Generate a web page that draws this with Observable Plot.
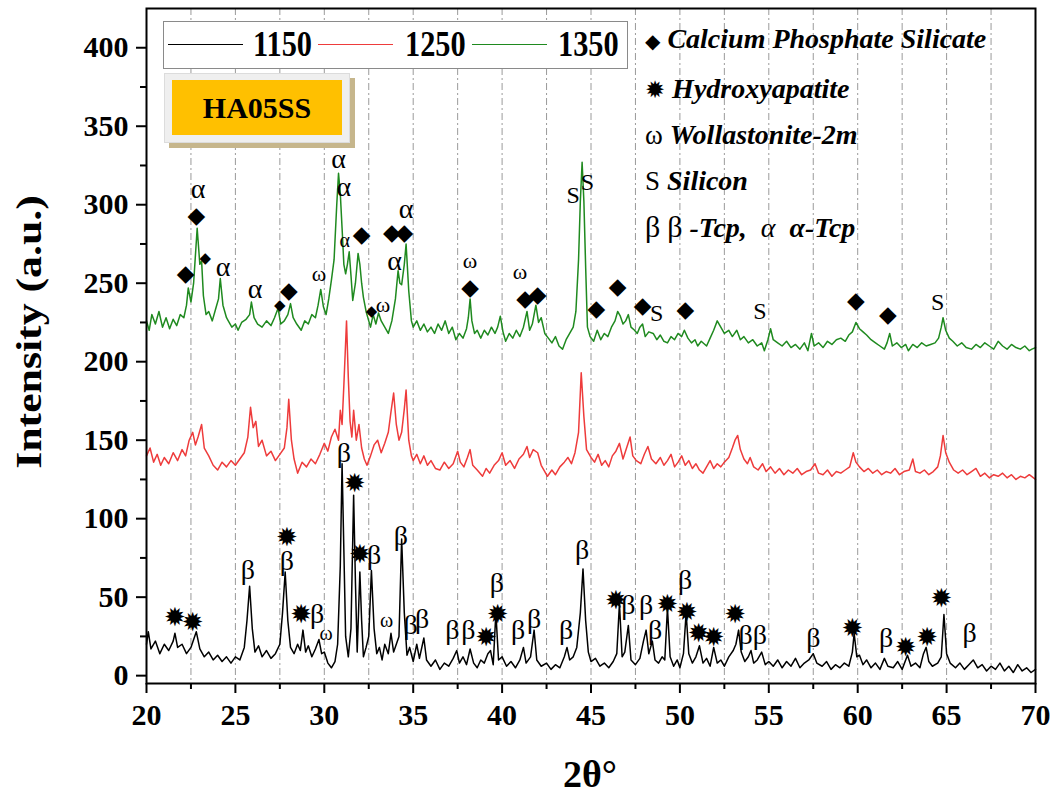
<!DOCTYPE html>
<html>
<head>
<meta charset="utf-8">
<script src="https://cdn.jsdelivr.net/npm/d3@7"></script>
<script src="https://cdn.jsdelivr.net/npm/@observablehq/plot@0.6"></script>
<style>
  body { margin: 0; background: #fff; }
  #wrap { position: relative; width: 1054px; height: 805px; overflow: hidden; }
  .ser { font-family: "Liberation Serif", serif; font-weight: bold; }
  .abs { position: absolute; }
</style>
</head>
<body>
<div id="wrap"></div>
<script>
// ---------- data ----------
const seriesNames = ["1150", "1250", "1350"];
const seriesColors = ["#000000", "#ee3b3b", "#1f8a1f"];

const s1150 = [[20,20],[20.1,28],[20.25,17],[20.5,22],[20.75,14],[21,20],[21.25,16],[21.5,22],[21.6,27],[21.75,18],[22,20],[22.25,14],[22.5,18],[22.8,28],[23,17],[23.25,12],[23.5,15],[23.75,10],[24,13],[24.25,9],[24.5,12],[24.75,8],[25,12],[25.25,10],[25.5,18],[25.65,35],[25.8,57],[25.95,30],[26.1,15],[26.3,19],[26.5,12],[26.75,16],[27,11],[27.25,14],[27.5,20],[27.65,40],[27.8,66],[27.95,35],[28.1,18],[28.3,14],[28.5,20],[28.65,16],[28.8,29],[28.95,15],[29.1,19],[29.3,12],[29.5,17],[29.7,23],[29.85,14],[30,15],[30.2,8],[30.4,5],[30.6,9],[30.75,20],[30.9,70],[31,135],[31.1,80],[31.2,25],[31.35,12],[31.5,30],[31.65,115],[31.75,60],[31.85,15],[32,66],[32.1,35],[32.2,12],[32.35,18],[32.5,25],[32.65,67],[32.8,30],[32.95,14],[33.1,18],[33.25,10],[33.4,20],[33.6,14],[33.75,27],[33.9,15],[34.05,20],[34.2,25],[34.35,87],[34.5,40],[34.65,13],[34.8,18],[35,9],[35.2,20],[35.35,11],[35.6,24],[35.75,10],[36,6],[36.25,10],[36.5,4],[36.75,8],[37,6],[37.25,11],[37.45,16],[37.6,8],[37.8,12],[38,7],[38.2,17],[38.4,8],[38.6,5],[38.8,10],[39,8],[39.2,14],[39.35,16],[39.5,7],[39.65,40],[39.8,10],[40,12],[40.25,6],[40.5,9],[40.75,5],[41,10],[41.2,18],[41.35,8],[41.6,12],[41.8,29],[41.95,10],[42.2,6],[42.5,8],[42.75,4],[43,7],[43.25,5],[43.5,12],[43.65,18],[43.8,10],[44,12],[44.2,18],[44.4,40],[44.55,68],[44.7,35],[44.85,15],[45,9],[45.25,11],[45.5,6],[45.75,8],[46,5],[46.25,9],[46.45,14],[46.6,46],[46.75,12],[46.9,15],[47.1,32],[47.25,10],[47.5,7],[47.75,11],[47.95,22],[48.1,29],[48.25,14],[48.45,22],[48.6,10],[48.8,8],[49,12],[49.15,10],[49.3,43],[49.45,12],[49.65,6],[49.85,10],[50,5],[50.2,14],[50.35,40],[50.5,14],[50.7,8],[50.9,12],[51.1,19],[51.3,8],[51.5,11],[51.7,6],[51.9,18],[52.1,8],[52.3,10],[52.5,6],[52.75,12],[53,16],[53.15,20],[53.3,29],[53.45,15],[53.65,9],[53.85,12],[54,16],[54.15,8],[54.35,10],[54.6,15],[54.8,7],[55,9],[55.25,6],[55.5,10],[55.75,5],[56,9],[56.25,6],[56.5,11],[56.75,5],[57,8],[57.25,10],[57.5,14],[57.7,8],[58,6],[58.25,9],[58.5,4],[58.75,7],[59,5],[59.25,8],[59.5,6],[59.7,15],[59.8,27],[59.95,12],[60.1,13],[60.3,7],[60.5,10],[60.75,5],[61,8],[61.25,4],[61.5,11],[61.7,6],[62,5],[62.25,9],[62.5,4],[62.8,13],[63,6],[63.25,8],[63.5,5],[63.7,14],[63.85,18],[64,9],[64.2,6],[64.5,8],[64.7,12],[64.85,39],[65,14],[65.2,8],[65.5,5],[65.75,8],[66,4],[66.25,7],[66.5,10],[66.75,5],[67,7],[67.25,3],[67.5,6],[67.75,4],[68,8],[68.25,3],[68.5,6],[68.75,2],[69,7],[69.25,3],[69.5,5],[69.75,2],[70,4]];

const s1250 = [[20,140],[20.2,145],[20.4,136],[20.6,141],[20.8,134],[21,139],[21.25,135],[21.5,142],[21.75,137],[22,144],[22.2,140],[22.4,150],[22.6,155],[22.75,147],[22.9,152],[23.1,160],[23.25,145],[23.5,140],[23.75,134],[24,131],[24.25,136],[24.5,133],[24.75,137],[25,134],[25.25,138],[25.5,142],[25.7,152],[25.85,171],[26,158],[26.15,162],[26.3,146],[26.5,150],[26.75,140],[27,143],[27.25,137],[27.5,141],[27.75,145],[27.9,158],[28,176],[28.15,150],[28.3,138],[28.5,129],[28.75,136],[29,133],[29.25,138],[29.5,135],[29.75,141],[30,148],[30.2,143],[30.4,152],[30.6,157],[30.8,150],[30.9,169],[31,160],[31.1,185],[31.25,226],[31.35,190],[31.45,162],[31.55,152],[31.65,169],[31.8,150],[31.95,160],[32.1,145],[32.25,138],[32.4,134],[32.6,140],[32.8,147],[33,150],[33.2,142],[33.4,148],[33.6,155],[33.75,168],[33.9,180],[34.05,160],[34.2,150],[34.35,155],[34.5,170],[34.6,182],[34.75,150],[34.9,140],[35,137],[35.2,141],[35.4,135],[35.6,140],[35.8,134],[36,137],[36.25,132],[36.5,131],[36.75,136],[37,132],[37.25,135],[37.5,143],[37.65,136],[37.85,133],[38.05,139],[38.2,144],[38.35,134],[38.6,131],[38.9,127],[39.1,132],[39.3,129],[39.55,134],[39.8,137],[40,142],[40.2,134],[40.45,137],[40.7,132],[40.95,138],[41.2,141],[41.4,146],[41.55,139],[41.75,144],[42,142],[42.2,134],[42.4,130],[42.55,127],[42.8,131],[43,128],[43.25,133],[43.5,136],[43.7,139],[43.9,135],[44.1,142],[44.3,155],[44.45,193],[44.6,165],[44.75,144],[45,139],[45.2,136],[45.4,141],[45.6,134],[45.8,137],[46,133],[46.2,140],[46.4,143],[46.6,148],[46.8,138],[47,145],[47.2,152],[47.35,140],[47.55,137],[47.8,135],[48,141],[48.2,146],[48.4,138],[48.65,135],[48.9,139],[49.1,134],[49.3,137],[49.5,141],[49.7,133],[49.9,136],[50.1,140],[50.3,134],[50.5,137],[50.7,132],[50.9,135],[51.1,131],[51.3,129],[51.5,133],[51.7,137],[51.9,132],[52.1,135],[52.3,133],[52.5,136],[52.75,139],[52.95,145],[53.1,150],[53.25,153],[53.4,144],[53.6,138],[53.8,135],[53.95,139],[54.15,133],[54.4,131],[54.65,135],[54.85,130],[55.1,133],[55.35,129],[55.6,132],[55.85,128],[56.1,131],[56.35,129],[56.6,132],[56.85,128],[57.1,130],[57.35,131],[57.6,135],[57.8,129],[58.05,128],[58.3,131],[58.55,127],[58.8,130],[59.05,129],[59.3,131],[59.55,133],[59.75,142],[59.9,136],[60.1,133],[60.35,130],[60.6,132],[60.85,129],[61.1,131],[61.35,128],[61.6,130],[61.85,129],[62.1,132],[62.35,128],[62.6,130],[62.9,131],[63.1,138],[63.25,130],[63.5,129],[63.75,131],[64,128],[64.25,130],[64.5,133],[64.65,140],[64.8,153],[64.95,142],[65.15,136],[65.4,131],[65.65,129],[65.9,131],[66.15,128],[66.4,130],[66.65,132],[66.9,127],[67.15,129],[67.4,126],[67.65,128],[67.9,127],[68.15,129],[68.4,126],[68.65,128],[68.9,125],[69.15,127],[69.4,126],[69.65,128],[70,125]];

const s1350 = [[20,226],[20.15,220],[20.3,230],[20.5,224],[20.7,232],[20.9,222],[21.1,228],[21.3,221],[21.5,227],[21.7,223],[21.9,230],[22.1,228],[22.25,236],[22.35,247],[22.5,238],[22.65,250],[22.85,285],[23,262],[23.1,264],[23.2,242],[23.35,230],[23.5,232],[23.7,226],[23.9,234],[24.05,240],[24.15,253],[24.3,236],[24.5,228],[24.6,226],[24.8,222],[25,224],[25.15,220],[25.35,225],[25.6,227],[25.8,230],[25.9,238],[26.05,228],[26.25,224],[26.5,222],[26.75,226],[27,223],[27.2,228],[27.4,234],[27.55,224],[27.75,226],[27.95,230],[28.1,237],[28.25,228],[28.45,224],[28.7,220],[28.9,226],[29.1,224],[29.3,230],[29.5,228],[29.65,236],[29.8,246],[29.95,235],[30.1,230],[30.25,240],[30.4,252],[30.55,265],[30.7,300],[30.8,320],[30.9,307],[31,285],[31.1,262],[31.2,256],[31.3,262],[31.4,270],[31.5,255],[31.6,239],[31.75,250],[31.9,269],[32,262],[32.1,250],[32.2,241],[32.35,232],[32.5,226],[32.6,222],[32.75,230],[32.9,224],[33.05,231],[33.2,226],[33.4,222],[33.6,218],[33.8,226],[34,240],[34.15,258],[34.25,250],[34.35,249],[34.5,262],[34.6,275],[34.75,245],[34.9,226],[35,222],[35.2,226],[35.4,220],[35.6,224],[35.8,219],[36,222],[36.2,218],[36.4,224],[36.6,220],[36.8,226],[37,218],[37.2,222],[37.4,214],[37.6,218],[37.8,215],[38,221],[38.1,228],[38.2,240],[38.3,226],[38.45,218],[38.6,220],[38.8,215],[39,220],[39.2,217],[39.4,222],[39.6,218],[39.75,222],[39.9,229],[40.05,219],[40.2,213],[40.4,218],[40.6,215],[40.8,220],[41,216],[41.2,222],[41.4,232],[41.55,220],[41.7,224],[41.9,236],[42.05,225],[42.2,228],[42.4,218],[42.6,215],[42.8,212],[43,216],[43.2,210],[43.4,208],[43.6,214],[43.8,218],[44,222],[44.15,232],[44.3,265],[44.4,302],[44.5,327],[44.6,302],[44.7,260],[44.8,222],[44.95,216],[45.15,213],[45.35,220],[45.55,214],[45.75,218],[45.95,216],[46.15,222],[46.35,226],[46.5,232],[46.65,229],[46.8,224],[46.95,226],[47.1,230],[47.25,222],[47.45,220],[47.6,218],[47.75,222],[47.9,224],[48.05,216],[48.25,219],[48.5,218],[48.7,214],[48.9,217],[49.1,213],[49.3,212],[49.5,216],[49.7,214],[49.9,218],[50.1,216],[50.25,220],[50.45,215],[50.65,212],[50.85,214],[51,210],[51.2,213],[51.5,210],[51.7,215],[51.9,220],[52.1,226],[52.3,222],[52.5,218],[52.75,220],[52.95,216],[53.2,220],[53.4,214],[53.6,216],[53.85,212],[54.1,214],[54.35,210],[54.6,212],[54.75,207],[54.95,214],[55.1,221],[55.25,214],[55.5,212],[55.75,210],[56,213],[56.25,209],[56.5,211],[56.75,208],[57,212],[57.2,207],[57.4,218],[57.55,210],[57.8,212],[58.05,209],[58.3,213],[58.55,211],[58.8,214],[59.05,215],[59.3,213],[59.5,217],[59.7,219],[59.9,225],[60.1,221],[60.3,219],[60.5,217],[60.75,214],[61,212],[61.25,210],[61.5,208],[61.65,212],[61.8,218],[61.95,210],[62.2,212],[62.45,209],[62.7,211],[62.85,207],[63.1,211],[63.35,209],[63.6,212],[63.85,210],[64.1,211],[64.35,212],[64.55,215],[64.7,222],[64.8,228],[64.95,220],[65.15,215],[65.35,213],[65.6,210],[65.85,212],[66.1,209],[66.4,208],[66.65,211],[66.9,209],[67.15,212],[67.4,210],[67.65,208],[67.9,213],[68.15,210],[68.4,208],[68.65,211],[68.9,209],[69.15,208],[69.4,210],[69.65,207],[69.8,208],[70,209]];

// peak markers [2theta, intensity]
const diamondMarks = [[22.2,256],[22.8,293],[28.0,245],[32.1,281],[33.8,282],[34.5,282],[38.2,247],[41.3,240],[42.0,243],[45.3,234],[46.5,248],[47.9,236],[50.3,233],[59.9,239],[61.7,230]];
const smallDiamondMarks = [[23.3,266],[27.5,236],[32.65,232]];
const alphaMarks = [[22.9,310],[24.3,260],[26.1,246],[30.8,329],[31.1,311],[33.95,264],[34.6,297]];
const smallAlphaMarks = [[31.15,277]];
const omegaGreen = [[29.7,256],[33.3,236],[38.2,264],[41.0,257]];
const siliconMarks = [[44.0,306],[44.8,314],[48.7,231],[54.5,232],[64.5,238]];
const starMarks = [[21.6,37],[22.6,34],[27.9,88],[28.7,39],[31.7,122],[32.0,77],[39.1,24],[39.75,39],[46.4,48],[49.3,45],[50.4,40],[51.05,27],[51.9,24],[53.1,39],[59.7,30],[62.7,18],[63.9,24],[64.7,49]];
const betaMarks = [[25.7,67],[27.9,73],[29.6,39],[31.1,142],[32.8,77],[34.3,89],[34.85,32],[35.5,36],[37.2,29],[38.1,29],[39.7,59],[40.9,29],[41.8,36],[43.6,29],[44.5,80],[47.1,45],[48.1,45],[48.6,29],[50.3,61],[53.7,26],[54.5,26],[57.5,24],[61.6,24],[66.3,27]];
const omegaBlack = [[30.1,27],[33.5,35]];

const xMajor = [20,25,30,35,40,45,50,55,60,65,70];
const xMinor = [22.5,27.5,32.5,37.5,42.5,47.5,52.5,57.5,62.5,67.5];
const gridX = [22.5,25,27.5,30,32.5,35,37.5,40,42.5,45,47.5,50,52.5,55,57.5,60,62.5,65,67.5];
const yMajor = [0,50,100,150,200,250,300,350,400];
const yMinor = [25,75,125,175,225,275,325,375];

const xLabel = "2θ°";
const yLabel = "Intensity (a.u.)";
const sampleName = "HA05SS";
const phaseLegend = [
  ["◆", "Calcium Phosphate Silicate"],
  ["✹", "Hydroxyapatite"],
  ["ω", "Wollastonite-2m"],
  ["S", "Silicon"]
];

// ---------- chart ----------
const serif = "Liberation Serif, Times New Roman, serif";
const sym = "DejaVu Sans, sans-serif";
const px = d => d[0], py = d => d[1];
const txt = (data, t, size, font, extra = {}) =>
  Plot.text(data, {x: px, y: py, text: () => t, fontSize: size, fontFamily: font, fill: "#000", ...extra});

const chart = Plot.plot({
  width: 1054,
  height: 805,
  marginLeft: 146,
  marginRight: 19,
  marginTop: 8,
  marginBottom: 122,
  x: {domain: [20, 70], label: null},
  y: {domain: [-5, 425], label: null},
  style: {fontFamily: serif, background: "transparent", overflow: "visible"},
  marks: [
    Plot.ruleX(gridX, {stroke: "#9a9a9a", strokeWidth: 1, strokeDasharray: "7,3,2,3"}),
    Plot.line(s1150, {x: px, y: py, stroke: seriesColors[0], strokeWidth: 1.5}),
    Plot.line(s1250, {x: px, y: py, stroke: seriesColors[1], strokeWidth: 1.5}),
    Plot.line(s1350, {x: px, y: py, stroke: seriesColors[2], strokeWidth: 1.5}),
    txt(diamondMarks, "◆", 23, sym),
    txt(smallDiamondMarks, "◆", 15, sym),
    txt(alphaMarks, "α", 28, serif),
    txt(smallAlphaMarks, "α", 20, serif),
    txt(omegaGreen, "ω", 22, serif),
    txt(siliconMarks, "S", 24, serif),
    txt(starMarks, "✹", 26, sym),
    txt(betaMarks, "β", 28, serif),
    txt(omegaBlack, "ω", 20, serif),
    Plot.frame({stroke: "#000", strokeWidth: 2}),
    Plot.axisX({ticks: xMajor, tickSize: 10, tickPadding: 10, fontSize: 30, fontWeight: "bold", strokeWidth: 2, label: null, tickFormat: d => d}),
    Plot.axisX({ticks: xMinor, tickSize: 6, strokeWidth: 2, label: null, tickFormat: () => ""}),
    Plot.axisY({ticks: yMajor, tickSize: 10, tickPadding: 8, fontSize: 30, fontWeight: "bold", strokeWidth: 2, label: null, tickFormat: d => d}),
    Plot.axisY({ticks: yMinor, tickSize: 6, strokeWidth: 2, label: null, tickFormat: () => ""})
  ]
});

const wrap = document.getElementById("wrap");
chart.style.position = "absolute";
chart.style.left = "0px";
chart.style.top = "0px";
wrap.appendChild(chart);

function addDiv(style, html, cls = "abs ser") {
  const d = document.createElement("div");
  d.className = cls;
  d.setAttribute("style", style);
  d.innerHTML = html;
  wrap.appendChild(d);
  return d;
}

// axis titles
addDiv("left:-105px; top:312px; width:270px; text-align:center; font-size:35px; line-height:40px; transform:rotate(-90deg) scaleX(1.25); transform-origin:50% 50%; color:#000; white-space:nowrap;", yLabel);
addDiv("left:490px; top:752px; width:200px; text-align:center; font-size:38px; line-height:44px; color:#000;", xLabel);

// series legend
addDiv("left:163px; top:21px; width:465px; height:48px; border:1.5px solid #8a8a8a; background:#fff; box-sizing:border-box;", "");
const legX = [[168, 253], [318, 405], [472, 558]];
seriesNames.forEach((n, i) => {
  addDiv(`left:${legX[i][0]}px; top:44px; width:75px; height:0; border-top:1.6px solid ${seriesColors[i]};`, "");
  addDiv(`left:${legX[i][1]}px; top:24px; font-size:33px; line-height:40px; color:#000; transform:scale(0.92,1.1); transform-origin:0 50%;`, n);
});

// sample tag
addDiv("left:164px; top:73px; width:186px; height:70px; background:#efefef; border:1px solid #dcdcdc; box-shadow:5px 5px 0 #c6b68c; box-sizing:border-box;", "");
addDiv("left:172px; top:80px; width:170px; height:55px; background:#ffc000; text-align:center; font-size:30px; line-height:55px; color:#000;", sampleName);

// phase legend
const rowsY = [22, 72, 118, 164, 210];
phaseLegend.forEach((r, i) => {
  const symStyle = i < 2 ? `font-family:${sym}; font-weight:normal; font-size:${i === 0 ? 20 : 24}px;` : `font-family:${serif}; font-weight:normal; font-size:27px;`;
  addDiv(`left:645px; top:${rowsY[i]}px; font-size:28px; line-height:34px; color:#000; white-space:nowrap;`,
    `<span style="${symStyle}">${r[0]}</span> <i>${r[1]}</i>`);
});
addDiv(`left:645px; top:${rowsY[4]}px; font-size:28px; line-height:34px; color:#000; white-space:nowrap;`,
  `<span style="font-weight:normal; font-size:30px;">β</span> <span style="font-weight:normal; font-size:30px;">β</span><i> -Tcp,</i>&nbsp;&nbsp;<i style="font-weight:normal">α</i>&nbsp;&nbsp;<i>α-Tcp</i>`);
</script>
</body>
</html>
